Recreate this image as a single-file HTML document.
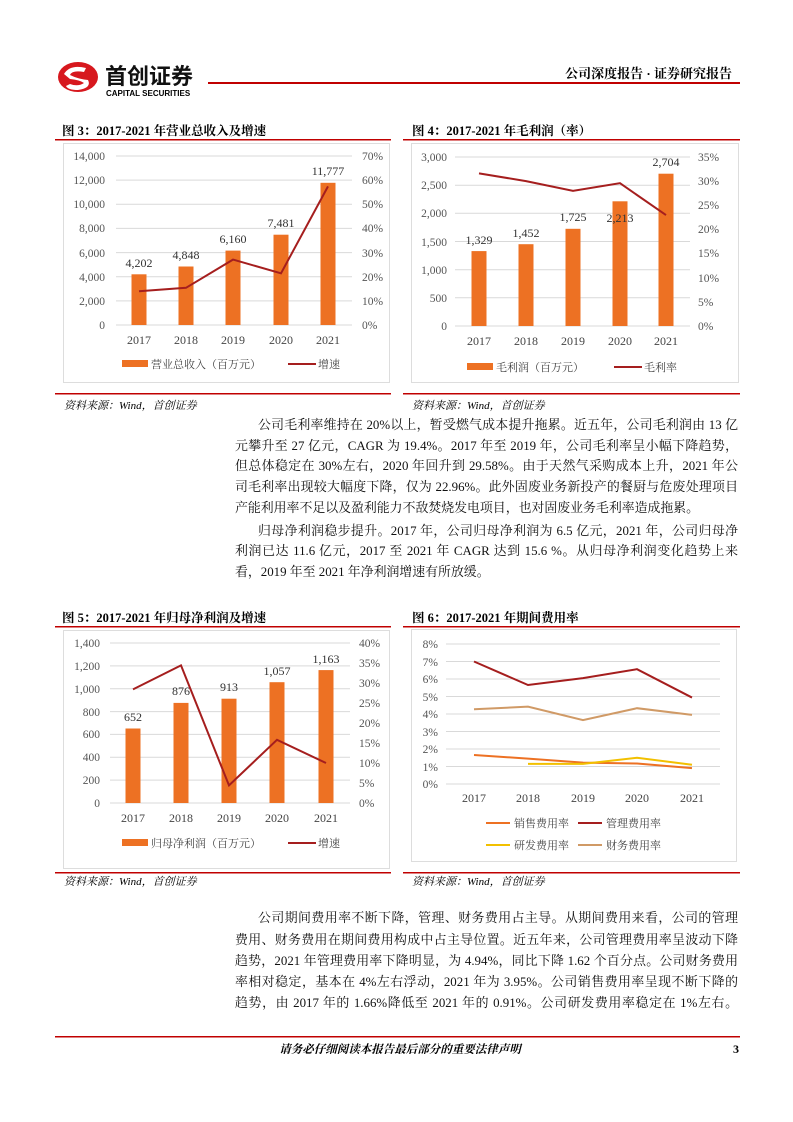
<!DOCTYPE html>
<html><head><meta charset="utf-8"><style>
body{margin:0;background:#fff;}
#p{position:relative;width:793px;height:1122px;overflow:hidden;font-family:"Liberation Serif","Noto Serif CJK SC",serif;color:#111;}
.l{position:absolute;left:235px;width:503px;font-size:12.9px;line-height:20px;text-align:justify;text-align-last:justify;white-space:nowrap;}
.n{text-align-last:left;}
svg text{font-family:"Liberation Serif","Noto Serif CJK SC",serif;}
</style></head><body><div id="p">
<svg width="793" height="1122" style="position:absolute;left:0;top:0">
<!-- header -->
<ellipse cx="78" cy="77" rx="20" ry="15" fill="#d7181e"/>
<path d="M64 74 Q70 64 86 68 L84 72 Q72 70 70 75 Q78 79 88 80 Q92 88 78 90 Q68 90 66 86 L70 84 Q78 87 84 83 Q80 80 70 79 Z" fill="#fff"/>
<text x="105" y="84" font-size="22" font-weight="bold" fill="#111" style="font-family:'Noto Sans CJK SC',sans-serif">首创证券</text>
<text x="106" y="96" font-size="8" font-weight="bold" style="font-family:'Liberation Sans',sans-serif">CAPITAL SECURITIES</text>
<rect x="208" y="82" width="532" height="2" fill="#c00000"/>
<text x="732" y="78" font-size="13" font-weight="bold" text-anchor="end">公司深度报告 · 证券研究报告</text>
<!-- chart 1 -->
<text x="62" y="135" font-size="12.5" font-weight="bold">图  3：2017-2021 年营业总收入及增速</text>
<rect x="55" y="139" width="336" height="1.5" fill="#c00000"/>
<rect x="63.5" y="143.5" width="326" height="239" fill="none" stroke="#ddd"/>
<g stroke="#d9d9d9" stroke-width="1"><line x1="116" x2="352" y1="156" y2="156"/><line x1="116" x2="352" y1="180.1" y2="180.1"/><line x1="116" x2="352" y1="204.3" y2="204.3"/><line x1="116" x2="352" y1="228.4" y2="228.4"/><line x1="116" x2="352" y1="252.6" y2="252.6"/><line x1="116" x2="352" y1="276.7" y2="276.7"/><line x1="116" x2="352" y1="300.9" y2="300.9"/><line x1="116" x2="352" y1="325" y2="325"/></g>
<g font-size="11.5" fill="#555" text-anchor="end"><text x="105" y="160">14,000</text><text x="105" y="184">12,000</text><text x="105" y="208">10,000</text><text x="105" y="232">8,000</text><text x="105" y="257">6,000</text><text x="105" y="281">4,000</text><text x="105" y="305">2,000</text><text x="105" y="329">0</text></g>
<g font-size="11.5" fill="#555"><text x="362" y="160">70%</text><text x="362" y="184">60%</text><text x="362" y="208">50%</text><text x="362" y="232">40%</text><text x="362" y="257">30%</text><text x="362" y="281">20%</text><text x="362" y="305">10%</text><text x="362" y="329">0%</text></g>
<g fill="#ED7123"><rect x="131.5" y="274.3" width="15" height="50.7"/><rect x="178.5" y="266.5" width="15" height="58.5"/><rect x="225.5" y="250.6" width="15" height="74.4"/><rect x="273.5" y="234.7" width="15" height="90.3"/><rect x="320.5" y="182.8" width="15" height="142.2"/></g>
<g font-size="12" fill="#333" text-anchor="middle"><text x="139" y="267">4,202</text><text x="186" y="259">4,848</text><text x="233" y="243">6,160</text><text x="281" y="227">7,481</text><text x="328" y="175">11,777</text></g>
<polyline points="139,291.2 186,287.8 233,259.6 281,273.3 328,186.4" fill="none" stroke="#A51E1E" stroke-width="2"/>
<g font-size="12" fill="#444" text-anchor="middle"><text x="139" y="344">2017</text><text x="186" y="344">2018</text><text x="233" y="344">2019</text><text x="281" y="344">2020</text><text x="328" y="344">2021</text></g>
<rect x="122" y="360" width="26" height="7" fill="#ED7123"/><text x="151" y="368" font-size="11" fill="#444">营业总收入（百万元）</text>
<line x1="288" x2="316" y1="364" y2="364" stroke="#A51E1E" stroke-width="2"/><text x="318" y="368" font-size="11" fill="#444">增速</text>
<rect x="55" y="393" width="336" height="1.5" fill="#c00000"/>
<text x="64" y="409" font-size="11" font-style="italic">资料来源：Wind，首创证券</text>
<!-- chart 2 -->
<text x="412" y="135" font-size="12.5" font-weight="bold">图  4：2017-2021 年毛利润（率）</text>
<rect x="403" y="139" width="337" height="1.5" fill="#c00000"/>
<rect x="411.5" y="143.5" width="327" height="239" fill="none" stroke="#ddd"/>
<g stroke="#d9d9d9"><line x1="455" x2="690" y1="157" y2="157"/><line x1="455" x2="690" y1="185.2" y2="185.2"/><line x1="455" x2="690" y1="213.3" y2="213.3"/><line x1="455" x2="690" y1="241.5" y2="241.5"/><line x1="455" x2="690" y1="269.7" y2="269.7"/><line x1="455" x2="690" y1="297.8" y2="297.8"/><line x1="455" x2="690" y1="326" y2="326"/></g>
<g font-size="11.5" fill="#555" text-anchor="end"><text x="447" y="161">3,000</text><text x="447" y="189">2,500</text><text x="447" y="217">2,000</text><text x="447" y="246">1,500</text><text x="447" y="274">1,000</text><text x="447" y="302">500</text><text x="447" y="330">0</text></g>
<g font-size="11.5" fill="#555"><text x="698" y="161">35%</text><text x="698" y="185">30%</text><text x="698" y="209">25%</text><text x="698" y="233">20%</text><text x="698" y="257">15%</text><text x="698" y="282">10%</text><text x="698" y="306">5%</text><text x="698" y="330">0%</text></g>
<g fill="#ED7123"><rect x="471.5" y="251.1" width="15" height="74.9"/><rect x="518.5" y="244.2" width="15" height="81.8"/><rect x="565.5" y="228.8" width="15" height="97.2"/><rect x="612.5" y="201.3" width="15" height="124.7"/><rect x="658.5" y="173.7" width="15" height="152.3"/></g>
<g font-size="12" fill="#333" text-anchor="middle"><text x="479" y="244">1,329</text><text x="526" y="237">1,452</text><text x="573" y="221">1,725</text><text x="620" y="222">2,213</text><text x="666" y="166">2,704</text></g>
<polyline points="479,173.4 526,181.1 573,190.8 620,183.2 666,215.1" fill="none" stroke="#A51E1E" stroke-width="2"/>
<g font-size="12" fill="#444" text-anchor="middle"><text x="479" y="345">2017</text><text x="526" y="345">2018</text><text x="573" y="345">2019</text><text x="620" y="345">2020</text><text x="666" y="345">2021</text></g>
<rect x="467" y="363" width="26" height="7" fill="#ED7123"/><text x="496" y="371" font-size="11" fill="#444">毛利润（百万元）</text>
<line x1="614" x2="642" y1="367" y2="367" stroke="#A51E1E" stroke-width="2"/><text x="644" y="371" font-size="11" fill="#444">毛利率</text>
<rect x="403" y="393" width="337" height="1.5" fill="#c00000"/>
<text x="412" y="409" font-size="11" font-style="italic">资料来源：Wind，首创证券</text>
<!-- chart 3 -->
<text x="62" y="622" font-size="12.5" font-weight="bold">图  5：2017-2021 年归母净利润及增速</text>
<rect x="55" y="626" width="336" height="1.5" fill="#c00000"/>
<rect x="63.5" y="630.5" width="326" height="238" fill="none" stroke="#ddd"/>
<g stroke="#d9d9d9"><line x1="110" x2="350" y1="643" y2="643"/><line x1="110" x2="350" y1="665.9" y2="665.9"/><line x1="110" x2="350" y1="688.7" y2="688.7"/><line x1="110" x2="350" y1="711.6" y2="711.6"/><line x1="110" x2="350" y1="734.4" y2="734.4"/><line x1="110" x2="350" y1="757.3" y2="757.3"/><line x1="110" x2="350" y1="780.1" y2="780.1"/><line x1="110" x2="350" y1="803" y2="803"/></g>
<g font-size="11.5" fill="#555" text-anchor="end"><text x="100" y="647">1,400</text><text x="100" y="670">1,200</text><text x="100" y="693">1,000</text><text x="100" y="716">800</text><text x="100" y="738">600</text><text x="100" y="761">400</text><text x="100" y="784">200</text><text x="100" y="807">0</text></g>
<g font-size="11.5" fill="#555"><text x="359" y="647">40%</text><text x="359" y="667">35%</text><text x="359" y="687">30%</text><text x="359" y="707">25%</text><text x="359" y="727">20%</text><text x="359" y="747">15%</text><text x="359" y="767">10%</text><text x="359" y="787">5%</text><text x="359" y="807">0%</text></g>
<g fill="#ED7123"><rect x="125.5" y="728.5" width="15" height="74.5"/><rect x="173.5" y="702.9" width="15" height="100.1"/><rect x="221.5" y="698.7" width="15" height="104.3"/><rect x="269.5" y="682.2" width="15" height="120.8"/><rect x="318.5" y="670.1" width="15" height="132.9"/></g>
<g font-size="12" fill="#333" text-anchor="middle"><text x="133" y="721">652</text><text x="181" y="695">876</text><text x="229" y="691">913</text><text x="277" y="675">1,057</text><text x="326" y="663">1,163</text></g>
<polyline points="133,689.4 181,665.4 229,785.4 277,739.8 326,763" fill="none" stroke="#A51E1E" stroke-width="2"/>
<g font-size="12" fill="#444" text-anchor="middle"><text x="133" y="822">2017</text><text x="181" y="822">2018</text><text x="229" y="822">2019</text><text x="277" y="822">2020</text><text x="326" y="822">2021</text></g>
<rect x="122" y="839" width="26" height="7" fill="#ED7123"/><text x="151" y="847" font-size="11" fill="#444">归母净利润（百万元）</text>
<line x1="288" x2="316" y1="843" y2="843" stroke="#A51E1E" stroke-width="2"/><text x="318" y="847" font-size="11" fill="#444">增速</text>
<rect x="55" y="872" width="336" height="1.5" fill="#c00000"/>
<text x="64" y="885" font-size="11" font-style="italic">资料来源：Wind，首创证券</text>
<!-- chart 4 -->
<text x="412" y="622" font-size="12.5" font-weight="bold">图  6：2017-2021 年期间费用率</text>
<rect x="403" y="626" width="337" height="1.5" fill="#c00000"/>
<rect x="411.5" y="629.5" width="325" height="232" fill="none" stroke="#ddd"/>
<g stroke="#d9d9d9"><line x1="446" x2="720" y1="644" y2="644"/><line x1="446" x2="720" y1="661.5" y2="661.5"/><line x1="446" x2="720" y1="679" y2="679"/><line x1="446" x2="720" y1="696.5" y2="696.5"/><line x1="446" x2="720" y1="714" y2="714"/><line x1="446" x2="720" y1="731.5" y2="731.5"/><line x1="446" x2="720" y1="749" y2="749"/><line x1="446" x2="720" y1="766.5" y2="766.5"/><line x1="446" x2="720" y1="784" y2="784"/></g>
<g font-size="11.5" fill="#555" text-anchor="end"><text x="438" y="648">8%</text><text x="438" y="666">7%</text><text x="438" y="683">6%</text><text x="438" y="701">5%</text><text x="438" y="718">4%</text><text x="438" y="736">3%</text><text x="438" y="753">2%</text><text x="438" y="771">1%</text><text x="438" y="788">0%</text></g>
<g fill="none" stroke-width="2"><polyline points="474,661.5 528,685 583,678.1 637,669.2 692,697.55" stroke="#A51E1E"/><polyline points="474,709.3 528,706.65 583,720.1 637,708.2 692,714.9" stroke="#D09A66"/><polyline points="474,754.95 528,758.6 583,762.65 637,763.5 692,768.1" stroke="#ED7123"/><polyline points="528,763.9 583,763.9 637,757.75 692,764.75" stroke="#F2C000"/></g>
<g font-size="12" fill="#444" text-anchor="middle"><text x="474" y="802">2017</text><text x="528" y="802">2018</text><text x="583" y="802">2019</text><text x="637" y="802">2020</text><text x="692" y="802">2021</text></g>
<g font-size="11" fill="#444"><line x1="486" x2="510" y1="823" y2="823" stroke="#ED7123" stroke-width="2"/><text x="514" y="827">销售费用率</text><line x1="578" x2="602" y1="823" y2="823" stroke="#A51E1E" stroke-width="2"/><text x="606" y="827">管理费用率</text><line x1="486" x2="510" y1="845" y2="845" stroke="#F2C000" stroke-width="2"/><text x="514" y="849">研发费用率</text><line x1="578" x2="602" y1="845" y2="845" stroke="#D09A66" stroke-width="2"/><text x="606" y="849">财务费用率</text></g>
<rect x="403" y="872" width="337" height="1.5" fill="#c00000"/>
<text x="412" y="885" font-size="11" font-style="italic">资料来源：Wind，首创证券</text>
<!-- footer -->
<rect x="55" y="1036" width="685" height="1.5" fill="#c00000"/>
<text x="400" y="1053" font-size="11.5" font-weight="bold" text-anchor="middle" font-style="italic">请务必仔细阅读本报告最后部分的重要法律声明</text>
<text x="733" y="1053" font-size="12" font-weight="bold">3</text>
</svg>
<div class="l" style="top:415px;left:258px;width:480px">公司毛利率维持在 20%以上，暂受燃气成本提升拖累。近五年，公司毛利润由 13 亿</div>
<div class="l" style="top:436px">元攀升至 27 亿元，CAGR 为 19.4%。2017 年至 2019 年，公司毛利率呈小幅下降趋势，</div>
<div class="l" style="top:456px">但总体稳定在 30%左右，2020 年回升到 29.58%。由于天然气采购成本上升，2021 年公</div>
<div class="l" style="top:477px">司毛利率出现较大幅度下降，仅为 22.96%。此外固废业务新投产的餐厨与危废处理项目</div>
<div class="l n" style="top:498px">产能利用率不足以及盈利能力不敌焚烧发电项目，也对固废业务毛利率造成拖累。</div>
<div class="l" style="top:521px;left:258px;width:480px">归母净利润稳步提升。2017 年，公司归母净利润为 6.5 亿元，2021 年，公司归母净</div>
<div class="l" style="top:541px">利润已达 11.6 亿元，2017 至 2021 年 CAGR 达到 15.6 %。从归母净利润变化趋势上来</div>
<div class="l n" style="top:562px">看，2019 年至 2021 年净利润增速有所放缓。</div>
<div class="l" style="top:908px;left:258px;width:480px">公司期间费用率不断下降，管理、财务费用占主导。从期间费用来看，公司的管理</div>
<div class="l" style="top:930px">费用、财务费用在期间费用构成中占主导位置。近五年来，公司管理费用率呈波动下降</div>
<div class="l" style="top:951px">趋势，2021 年管理费用率下降明显，为 4.94%，同比下降 1.62 个百分点。公司财务费用</div>
<div class="l" style="top:972px">率相对稳定，基本在 4%左右浮动，2021 年为 3.95%。公司销售费用率呈现不断下降的</div>
<div class="l" style="top:993px">趋势，由 2017 年的 1.66%降低至 2021 年的 0.91%。公司研发费用率稳定在 1%左右。</div>
</div></body></html>
